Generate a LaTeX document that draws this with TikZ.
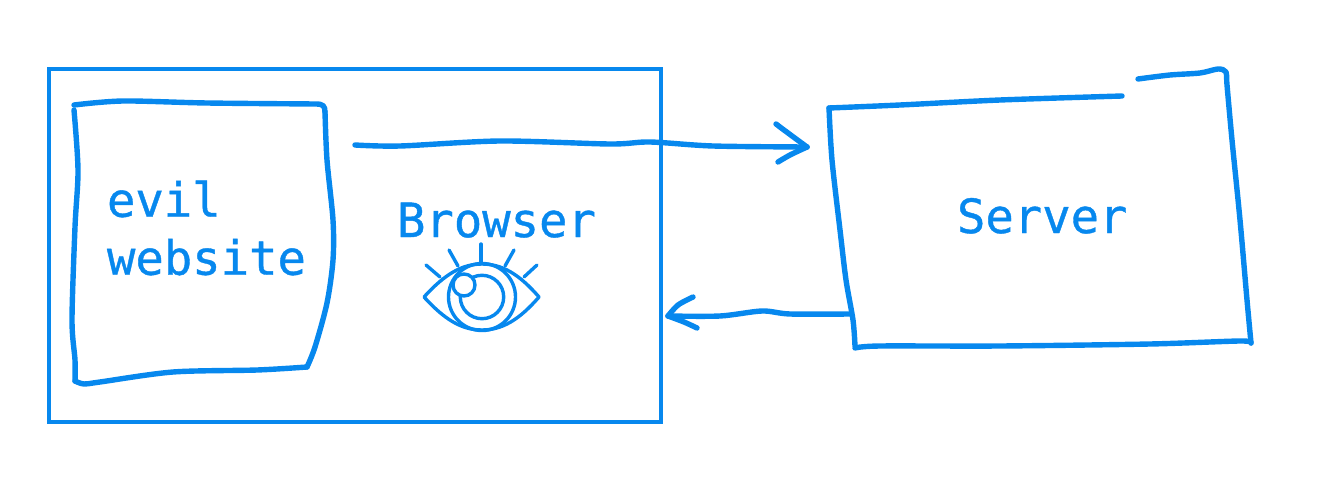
\documentclass[tikz,border=0pt]{standalone}
\usepackage{fontspec}
\newfontfamily\sketchfont[FakeBold=0.8]{DejaVu Sans Mono}
\definecolor{sketch}{HTML}{0788EE}
\tikzset{
  hand/.style={draw=sketch,line width=5.4pt,line cap=round,line join=round},
  thin stroke/.style={draw=sketch,line width=3.4pt,line cap=round,line join=round},
  label text/.style={text=sketch,inner sep=0pt,outer sep=0pt,font=\sketchfont\fontsize{47.2}{58}\selectfont},
  frame/.style={draw=sketch,line width=3.2pt,inner sep=0pt,outer sep=0pt,minimum width=612pt,minimum height=353pt}
}
\begin{document}
\begin{tikzpicture}[x=1pt,y=-1pt]
\useasboundingbox (0,0) rectangle (1319,492);
% browser frame
\node[frame] (browser) at (355,245.5) {};
% evil website box
\draw[hand] plot[smooth,tension=.5] coordinates {(74,105) (123,101) (207,103) (316,104)}
  .. controls (323,104) and (325,106) .. (325,112);
\draw[hand] plot[smooth,tension=.5] coordinates {(325,112) (327,160) (333,220) (333,260) (327,303) (315,347) (307,367)};
\draw[hand] plot[smooth,tension=.5] coordinates {(307,367) (257,370) (173,372) (100,382) (84,384) (75,381)};
\draw[hand] plot[smooth,tension=.5] coordinates {(75,381) (75,360) (72,320) (75,227) (78,170) (74,110)};
% server box
\draw[hand] plot[smooth,tension=.5] coordinates {(1122,96) (1000,100) (900,105) (829,108)};
\draw[hand] plot[smooth,tension=.5] coordinates {(829,108) (832,160) (840,230) (846,280) (853,320) (855,346)};
\draw[hand] plot[smooth,tension=.5] coordinates {(855,348) (880,346) (1000,346) (1150,344) (1240,341) (1251,343)};
\draw[hand] plot[smooth,tension=.5] coordinates {(1251,343) (1247,300) (1240,220) (1232,140) (1227,85) (1226,72) (1218,69) (1200,73) (1170,75) (1138,79)};
% texts
\node[label text,anchor=west,align=left] (evil) at (107,228) {evil\\website};
\node[label text,anchor=base west] (browsertext) at (397,237) {Browser};
\node[label text,anchor=base west] (server) at (957,233) {Server};
% request arrow
\coordinate (reqstart) at (355,145);
\coordinate (reqtip) at (807,147);
\draw[hand] plot[smooth,tension=.5] coordinates {(reqstart) (400,146) (500,141) (610,144) (650,142) (713,146) (reqtip)};
\draw[hand] plot[smooth,tension=.5] coordinates {(776,124) (788,133) (807,147)};
\draw[hand] plot[smooth,tension=.5] coordinates {(778,162) (790,155) (807,147)};
% response arrow
\coordinate (respstart) at (850,314);
\coordinate (resptip) at (668,316);
\draw[hand] plot[smooth,tension=.5] coordinates {(respstart) (790,314) (762,311) (720,316) (resptip)};
\draw[hand] plot[smooth,tension=.5] coordinates {(693,297) (678,305) (668,316)};
\draw[hand] plot[smooth,tension=.5] coordinates {(697,328) (684,322) (668,316)};
% eye
\draw[thin stroke] (424,297) .. controls (445,274) and (462,264) .. (482,264)
  .. controls (502,264) and (519,274) .. (539,297)
  .. controls (519,320) and (502,330) .. (482,330)
  .. controls (462,330) and (445,320) .. (424,297) -- cycle;
\draw[thin stroke] (482,297) circle[radius=33.5pt];
\draw[thin stroke] (482,297) circle[radius=21.7pt];
\draw[thin stroke,fill=white] (464,285) circle[radius=11pt];
\draw[thin stroke] (481,244) -- (481,262);
\draw[thin stroke] (449,250) -- (458,266);
\draw[thin stroke] (514,250) -- (505,266);
\draw[thin stroke] (426,265) -- (440,277);
\draw[thin stroke] (537,265) -- (524,277);
\end{tikzpicture}
\end{document}
